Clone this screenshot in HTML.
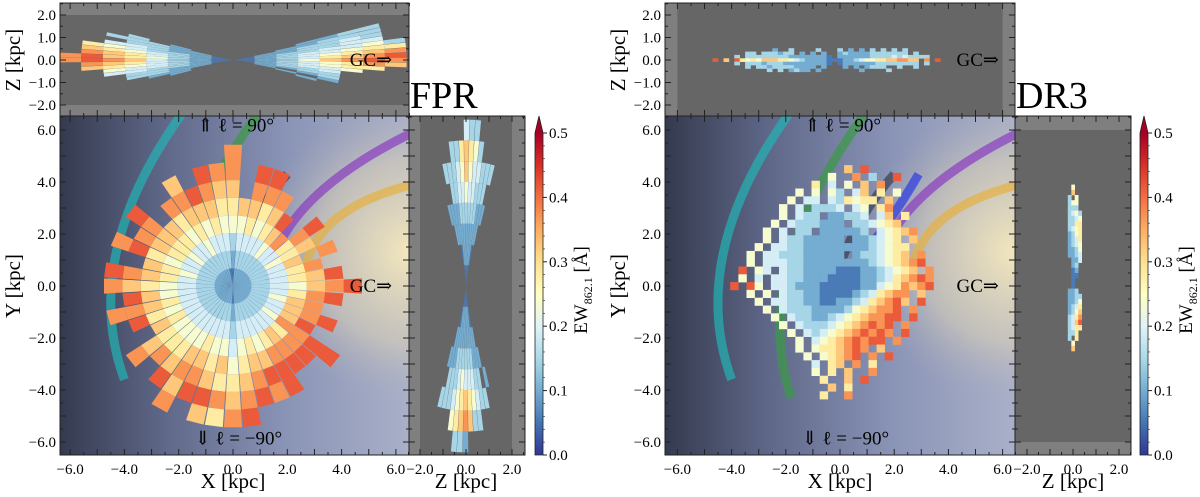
<!DOCTYPE html>
<html><head><meta charset="utf-8"><style>
html,body{margin:0;padding:0;background:#fff;}
svg{display:block;font-family:"Liberation Serif",serif;}
text{font-family:"Liberation Serif","DejaVu Serif",serif;}
</style></head><body>
<svg id="chart" width="1200" height="497" viewBox="0 0 1200 497" xmlns="http://www.w3.org/2000/svg">
<defs>
<linearGradient id="galBase" x1="0" y1="0" x2="1" y2="0">
<stop offset="0" stop-color="#343a4e"/><stop offset="0.3" stop-color="#5f6889"/><stop offset="0.65" stop-color="#8a94b6"/><stop offset="1" stop-color="#a9b0c8"/>
</linearGradient>
<radialGradient id="bulge" cx="1" cy="0.4" r="0.45">
<stop offset="0" stop-color="#f3e7bd" stop-opacity="1"/><stop offset="0.6" stop-color="#d8cfb8" stop-opacity="0.6"/><stop offset="1" stop-color="#aab" stop-opacity="0"/>
</radialGradient>
<linearGradient id="cbGrad" x1="0" y1="1" x2="0" y2="0">
<stop offset="0" stop-color="#313695"/><stop offset="0.1" stop-color="#4575b4"/><stop offset="0.2" stop-color="#74add1"/><stop offset="0.3" stop-color="#abd9e9"/><stop offset="0.4" stop-color="#e0f3f8"/><stop offset="0.5" stop-color="#ffffbf"/><stop offset="0.6" stop-color="#fee090"/><stop offset="0.7" stop-color="#fdae61"/><stop offset="0.8" stop-color="#f46d43"/><stop offset="0.9" stop-color="#d73027"/><stop offset="1" stop-color="#a50026"/>
</linearGradient>
</defs>
</svg>
<script>
// ---------- data ----------
const cbTicks=[0,0.1,0.2,0.3,0.4,0.5];
const xyTicks=[-6,-4,-2,0,2,4,6];
const zTopTicks=[-2,-1,0,1,2];
const zSideTicks=[-2,0,2];
// FPR X-Y wedges (angle deg, EW digit per radial bin; digit*0.045 = EW)
const fprMainAngles=[0,7.5,15,22.5,30,37.5,45,52.5,60,67.5,75,82.5,90,97.5,105,112.5,120,127.5,135,142.5,150,157.5,165,172.5,180,187.5,195,202.5,210,217.5,225,232.5,240,247.5,255,262.5,270,277.5,285,292.5,300,307.5,315,322.5,330,337.5,345,352.5];
const fprMainEW=["2345789","234679","23468","2347.8","23567","234689","2348","23579","234678","2345689","2346789","23457","12356788","1345678","2346789","234579","2356787","234568","23467","2356789","234678","2345698","23567","2346789","2345678","234579","2346788","234569","23467","2345678","234568","2345679","23457878","2346789","23456797","23457686","12345678","23456789","2346789","2345798","2346899","234789","234689","2358899","23479","234789","23578","234689"];
// FPR X-Z wedges
const fprTopAngles=[16,14,12,10,8,6,4,2,0,-2,-4,-6,-8,-10,-12,-14,-16,164,166,168,170,172,174,176,178,180,182,184,186,188,190,192,194,196];
const fprTopEW=["...2233","..22333",".223343","1223344","12334453","12344566","12345678","12346789","12357898","12345687","1234566","123445","12334",".2233",".2.23","..2.2","...2","..2.3",".22333","12233","122344","1233456","1234567","1234678","12356798","12347898","1234678","1234567","123445","123344","12233",".2233","..22","..2"];
// FPR Z-Y wedges
const fprSideAngles=[76,78.3,80.6,82.9,85.2,87.5,89.8,92.1,94.4,96.7,99,101.3,103.6,256,258.3,260.6,262.9,265.2,267.5,269.8,272.1,274.4,276.7,279,281.3,283.6];
const fprSideEW=["...2.3","..2233",".12233","1223343","12234453","12234563","12235774","1223456","1223443",".122333","..2233","..22.3","...2","...2.3","..2233",".12233","1223345","12234563","12235673","12234782","1223467","1223453",".122343","..2233","...2.3","....2"];
// DR3 X-Y grid (rows from Y=4.5 down, step 0.3; cols from X=-3.9, step 0.3)
const dr3MainRows=["..............7.9........","............5..8.3..9.....","..........6.4.5.7.8.......","........5.5.53.47.6.5....",".......5.44.436566.7.....","......5.4.3334.45.68.....","......5.433.22334.47.6...",".....5.4333222.334567....","....5.4.33.222223.45678..","....5.43322222.223456.7..","...5.44332222222234566...","..5.4433322222.2334567.8.","..5.44433222222223456789.",".9.54.43322221112234567.8",".5.4.44332221111223467898","9.95.44322211111224568789","..5.5.4332211112346788.7.","...5.44332211223467897.9.","....5.433322223567889.8..",".....5.43322345678899.9..","......5.433345678989.8...",".......5.43456789898.9...","........5.456789899.8....","........5.5667898.7......",".........5.56789.8.9.....","..........4.67.8.6.......","..........5.6.7..8.......","...........6..7.9........","............7.6..........","...........6..8.........."];
// DR3 X-Z grid (rows from Z=0.6 down, step 0.15; cols from X=-4.6 step 0.2)
const dr3TopRows=["...........2..3....3...3.2.2.3.3.3.3.......","......33.333233.2.2.2..2322223333333.3.....","....3.3333333322222221.22222233334343333...","9.7.9656577766543222211122345566778877.8.9.","....3.3332333222222221.122222233333333.3...","......3.33233332222.2...2.2.2333..3..3.....","..........3.3.2322.2.......2....3.........."];
// DR3 Z-Y grid (rows from Y=3.8 down step 0.2; cols Z=-0.3..0.3 step 0.15)
const dr3SideRows=["..5..","..7..",".3.5.",".355.",".333.",".3453",".3345",".3366",".3456",".2356",".2346",".2345",".2235",".2234","..224","..23.","..12.","..11.","..1..","..1..",".223.",".2233",".2235",".2346",".2357",".3468",".3479",".3466",".336.",".3.6.","..5..","..7..","....."];
const cmapStops=["#313695","#4575b4","#74add1","#abd9e9","#e0f3f8","#ffffbf","#fee090","#fdae61","#f46d43","#d73027","#a50026"];

// ---------- helpers ----------
const NS='http://www.w3.org/2000/svg';
const svg=document.getElementById('chart');
const FONT='"Liberation Serif","DejaVu Serif",serif';
function mk(tag,attrs,parent){const e=document.createElementNS(NS,tag);for(const k in attrs)e.setAttribute(k,attrs[k]);(parent||svg).appendChild(e);return e;}
function hex(h){return [1,3,5].map(i=>parseInt(h.substr(i,2),16));}
function cmap(v){let t=Math.max(0,Math.min(1,v/0.5))*10;const i=Math.min(9,Math.floor(t));const f=t-i;const a=hex(cmapStops[i]),b=hex(cmapStops[i+1]);return 'rgb('+a.map((x,k)=>Math.round(x+(b[k]-x)*f)).join(',')+')';}
function digitEW(ch){return parseInt(ch,10)*0.045+0.01;}

function panel(x0,y0,x1,y1,sx,sy){return {x0,y0,x1,y1,sx,sy};}
const Lm=panel(60,116,409,455,v=>233+27.15*v,v=>286-26*v);
const Lt=panel(60,3,409,116,Lm.sx,v=>60-22.5*v);
const Ls=panel(409,116,525,455,v=>466+23*v,Lm.sy);
const Rm=panel(665,116,1015,455,v=>840+27.1*v,v=>286-26*v);
const Rt=panel(665,3,1015,116,Rm.sx,v=>60-22.5*v);
const Rs=panel(1015,116,1131,455,v=>1073+23*v,Rm.sy);

let clipId=0;
function clipGroup(P,name){
  const cp=mk('clipPath',{id:'cp'+clipId},svg.querySelector('defs'));
  mk('rect',{x:P.x0,y:P.y0,width:P.x1-P.x0,height:P.y1-P.y0},cp);
  const g=mk('g',{'clip-path':'url(#cp'+clipId+')'});
  
  
  clipId++;return g;
}
function wedges(P,angles,vals,dr,g,name){
  const step=Math.abs(angles[1]-angles[0]);
  angles.forEach((a,i)=>{
    const s=vals[i];
    for(let k=0;k<s.length;k++){
      if(s[k]==='.')continue;
      const r0=k*dr,r1=(k+1)*dr,w=step*0.47*Math.PI/180,ar=a*Math.PI/180;
      const pts=[[r0,ar-w],[r1,ar-w],[r1,ar+w],[r0,ar+w]].map(p=>P.sx(p[0]*Math.cos(p[1])).toFixed(1)+','+P.sy(p[0]*Math.sin(p[1])).toFixed(1)).join(' ');
      const e=mk('polygon',{points:pts,fill:cmap(digitEW(s[k]))},g);
      
      
    }
  });
}
function cells(P,rows,xs,ys,dx,dy,g,name){
  rows.forEach((row,r)=>{
    for(let c=0;c<row.length;c++){
      if(row[c]==='.')continue;
      const x=xs+c*dx,y=ys-r*dy;
      const xa=P.sx(x-dx/2),xb=P.sx(x+dx/2),ya=P.sy(y+dy/2),yb=P.sy(y-dy/2);
      const e=mk('rect',{x:xa.toFixed(1),y:ya.toFixed(1),width:(xb-xa+0.3).toFixed(1),height:(yb-ya+0.3).toFixed(1),fill:cmap(digitEW(row[c]))},g);
      
      
    }
  });
}
function galaxy(P,g){
  const b=mk('rect',{x:P.x0,y:P.y0,width:P.x1-P.x0,height:P.y1-P.y0,fill:'url(#galBase)'},g);
  
  
  const u=mk('rect',{x:P.x0,y:P.y0,width:P.x1-P.x0,height:P.y1-P.y0,fill:'url(#bulge)'},g);
  
  
}
function arc(P,g,p0,pm,p2,color,name){
  const c=[2*pm[0]-(p0[0]+p2[0])/2,2*pm[1]-(p0[1]+p2[1])/2];
  const d='M'+P.sx(p0[0])+','+P.sy(p0[1])+' Q'+P.sx(c[0])+','+P.sy(c[1])+' '+P.sx(p2[0])+','+P.sy(p2[1]);
  const e=mk('path',{d:d,fill:'none',stroke:color,'stroke-width':9,'stroke-opacity':0.7},g);
  
  
}
function txt(x,y,s,size,anchor,name,extra){
  const e=mk('text',Object.assign({x:x,y:y,'font-size':size,'font-family':FONT,'text-anchor':anchor||'middle',fill:'#000'},extra||{}));
  e.textContent=s;
  
  
  return e;
}
function fmt(v){return (v<0?'\u2212':'')+Math.abs(v).toFixed(1);}
function frame(P,name){
  const e=mk('rect',{x:P.x0,y:P.y0,width:P.x1-P.x0,height:P.y1-P.y0,fill:'none',stroke:'#222','stroke-width':1});
  
  
}
function ticksX(P,lo,hi,major,minorStep,labels,name){
  for(let v=lo;v<=hi+1e-9;v+=minorStep){
    const isMaj=Math.abs(v-Math.round(v))<1e-6;
    const L=isMaj?6:3,x=P.sx(v);
    if(x<P.x0-0.5||x>P.x1+0.5)continue;
    mk('line',{x1:x,y1:P.y1,x2:x,y2:P.y1-L,stroke:'#222'});
    mk('line',{x1:x,y1:P.y0,x2:x,y2:P.y0+L,stroke:'#222'});
  }
  if(labels)major.forEach(v=>txt(P.sx(v),P.y1+19,fmt(v),15,'middle',name));
}
function ticksY(P,lo,hi,major,minorStep,labels,name){
  for(let v=lo;v<=hi+1e-9;v+=minorStep){
    const isMaj=Math.abs(v-Math.round(v))<1e-6;
    const L=isMaj?6:3,y=P.sy(v);
    if(y<P.y0-0.5||y>P.y1+0.5)continue;
    mk('line',{x1:P.x0,y1:y,x2:P.x0+L,y2:y,stroke:'#222'});
    mk('line',{x1:P.x1,y1:y,x2:P.x1-L,y2:y,stroke:'#222'});
  }
  if(labels)major.forEach(v=>txt(P.x0-4,P.sy(v)+5,fmt(v),15,'end',name));
}
function colorbar(x,name){
  const g=mk('g',{});
  
  
  const y0=455,y1=133;
  mk('rect',{x:x,y:y1,width:8,height:y0-y1,fill:'url(#cbGrad)'},g);
  const t=mk('polygon',{points:x+','+y1+' '+(x+8)+','+y1+' '+(x+4)+',116',fill:'#a50026'},g);
  
  
  mk('polygon',{points:x+','+y0+' '+x+','+y1+' '+(x+4)+',116 '+(x+8)+','+y1+' '+(x+8)+','+y0,fill:'none',stroke:'#222','stroke-width':0.8},g);
  cbTicks.forEach(v=>{
    const y=y0-(y0-y1)*v/0.5;
    mk('line',{x1:x+8,y1:y,x2:x+12,y2:y,stroke:'#222'},g);
    txt(x+14,y+5,v.toFixed(1),15,'start','colorbar-tick-label');
  });
  for(let v=0.02;v<0.5;v+=0.02){const y=y0-(y0-y1)*v/0.5;mk('line',{x1:x+8,y1:y,x2:x+10,y2:y,stroke:'#222','stroke-width':0.6},g);}
  const lx=x+52,ly=290;
  const e=mk('text',{x:0,y:0,'font-size':19,'font-family':FONT,'text-anchor':'middle',transform:'translate('+lx+','+ly+') rotate(-90)'});
  
  
  e.innerHTML='EW<tspan font-size="12" dy="5">862.1</tspan><tspan dy="-5"> [Å]</tspan>';
}

// ---------- build a side of the figure ----------
function build(M,T,S,isDR3,prefix,cbx,title){
  const gm=clipGroup(M,prefix+'-xy-panel');
  galaxy(M,gm);
  arc(M,gm,[-1.9,6.6],[-4.3,1.3],[-4.0,-3.6],'#22b4b4','arc-teal');
  arc(M,gm,[0.9,6.6],[-1.9,0.8],[-1.8,-4.3],'#3a9a45','arc-green');
  arc(M,gm,[2.0,4.3],[0.4,1.8],[-0.6,-1.3],'#354052','arc-dark');
  if(isDR3)arc(M,gm,[2.9,4.3],[2.0,2.8],[1.0,1.4],'#2c3ce0','arc-blue');
  arc(M,gm,[6.6,5.9],[2.8,3.2],[1.3,0.2],'#8a3cc0','arc-purple');
  arc(M,gm,[6.6,3.9],[3.6,2.4],[2.6,0.0],'#e5b040','arc-orange');
  if(isDR3)cells(M,dr3MainRows,-3.9,4.5,0.3,0.3,gm,'dr3-xy-cell');
  else wedges(M,fprMainAngles,fprMainEW,0.68,gm,'fpr-xy-wedge');
  txt(M.sx(0.1),M.sy(5.95),'⇑ ℓ = 90°',19,'middle','l90-annotation');
  txt(M.sx(0.2),M.sy(-6.1),'⇓ ℓ = −90°',19,'middle','l-90-annotation');
  txt(M.sx(4.3),M.sy(0)+6,'GC⇒',19,'start','gc-annotation');
  frame(M,prefix+'-xy-frame');
  ticksX(M,-6.5,6.5,xyTicks,0.5,true,'x-tick-label');
  ticksY(M,-6.5,6.5,xyTicks,0.5,true,'y-tick-label');
  const gt=clipGroup(T,prefix+'-xz-panel');
  mk('rect',{x:T.x0,y:T.y0,width:T.x1-T.x0,height:T.y1-T.y0,fill:'#7f7f7f'},gt);
  if(isDR3)mk('rect',{x:T.sx(-6),y:T.y0,width:T.sx(6)-T.sx(-6),height:T.y1-T.y0,fill:'#666'},gt);
  else mk('rect',{x:T.x0,y:T.sy(2),width:T.x1-T.x0,height:T.sy(-2)-T.sy(2),fill:'#666'},gt);
  if(isDR3)cells(T,dr3TopRows,-4.6,0.45,0.2,0.15,gt,'dr3-xz-cell');
  else wedges(T,fprTopAngles,fprTopEW,0.8,gt,'fpr-xz-wedge');
  txt(T.sx(4.3),T.sy(0)+6,'GC⇒',19,'start','gc-annotation-top');
  frame(T,prefix+'-xz-frame');
  ticksX(T,-6.5,6.5,xyTicks,0.5,false,'');
  ticksY(T,-2.5,2.5,zTopTicks,0.5,true,'z-tick-label');
  const gs=clipGroup(S,prefix+'-zy-panel');
  mk('rect',{x:S.x0,y:S.y0,width:S.x1-S.x0,height:S.y1-S.y0,fill:'#7f7f7f'},gs);
  if(isDR3)mk('rect',{x:S.x0,y:S.sy(6),width:S.x1-S.x0,height:S.sy(-6)-S.sy(6),fill:'#666'},gs);
  else mk('rect',{x:S.sx(-2),y:S.y0,width:S.sx(2)-S.sx(-2),height:S.y1-S.y0,fill:'#666'},gs);
  if(isDR3)cells(S,dr3SideRows,-0.3,3.8,0.15,0.2,gs,'dr3-zy-cell');
  else wedges(S,fprSideAngles,fprSideEW,0.8,gs,'fpr-zy-wedge');
  frame(S,prefix+'-zy-frame');
  ticksX(S,-2.5,2.5,zSideTicks,0.5,true,'z-side-tick-label');
  ticksY(S,-6.5,6.5,xyTicks,0.5,false,'');
  txt(M.sx(0),488,'X [kpc]',21,'middle','x-axis-title');
  txt(S.sx(0),488,'Z [kpc]',21,'middle','z-side-axis-title');
  txt(0,0,'Y [kpc]',21,'middle','y-axis-title',{transform:'translate('+(M.x0-40)+',286) rotate(-90)'});
  txt(0,0,'Z [kpc]',21,'middle','z-top-axis-title',{transform:'translate('+(M.x0-40)+',60) rotate(-90)'});
  txt(M.x1+1,108,title,38,'start',prefix+'-title');
  colorbar(cbx,prefix+'-colorbar');
}
build(Lm,Lt,Ls,false,'fpr',535,'FPR');
build(Rm,Rt,Rs,true,'dr3',1140,'DR3');
</script>
</body></html>
